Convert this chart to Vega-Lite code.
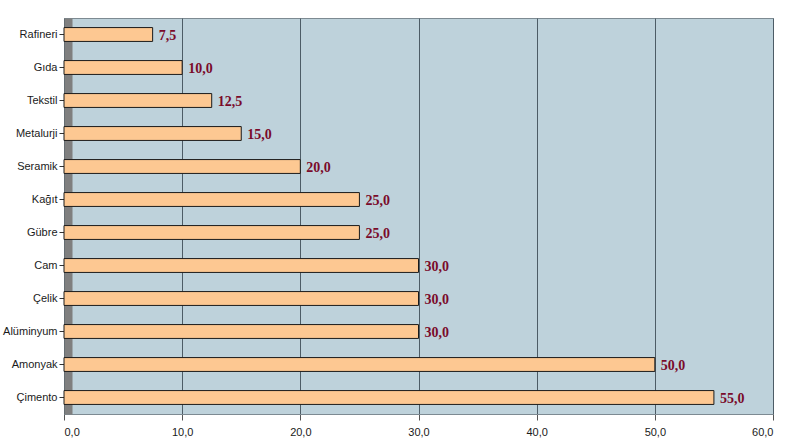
{
  "$schema": "https://vega.github.io/schema/vega-lite/v6.json",
  "autosize": "none",
  "width": 709,
  "height": 396,
  "padding": {"left": 64, "top": 18, "right": 21, "bottom": 30},
  "background": "white",
  "config": {
    "locale": {"number": {"decimal": ",", "thousands": ".", "grouping": [3], "currency": ["", " TL"]}},
    "view": {"fill": "#bed2db", "stroke": "#7d8a92", "strokeWidth": 1}
  },
  "data": {
    "values": [
      {"sektor": "Rafineri", "deger": 7.5},
      {"sektor": "Gıda", "deger": 10.0},
      {"sektor": "Tekstil", "deger": 12.5},
      {"sektor": "Metalurji", "deger": 15.0},
      {"sektor": "Seramik", "deger": 20.0},
      {"sektor": "Kağıt", "deger": 25.0},
      {"sektor": "Gübre", "deger": 25.0},
      {"sektor": "Cam", "deger": 30.0},
      {"sektor": "Çelik", "deger": 30.0},
      {"sektor": "Alüminyum", "deger": 30.0},
      {"sektor": "Amonyak", "deger": 50.0},
      {"sektor": "Çimento", "deger": 55.0}
    ]
  },
  "encoding": {
    "y": {
      "field": "sektor",
      "type": "nominal",
      "sort": null,
      "scale": {"paddingInner": 0.58, "paddingOuter": 0.29},
      "axis": {
        "title": null,
        "offset": -4,
        "labelFont": "Liberation Sans",
        "labelFontSize": 11,
        "labelColor": "#1a1a1a",
        "labelPadding": 2,
        "tickColor": "#333333",
        "tickSize": 9,
        "domainColor": "#7f7f7f",
        "domainWidth": 8
      }
    },
    "x": {
      "field": "deger",
      "type": "quantitative",
      "scale": {"domain": [0, 60], "nice": false},
      "axis": {
        "title": null,
        "values": [0, 10, 20, 30, 40, 50, 60],
        "format": ".1f",
        "labelFont": "Liberation Sans",
        "labelFontSize": 11,
        "labelColor": "#1a1a1a",
        "labelPadding": 6,
        "tickColor": "#555555",
        "tickSize": 6,
        "domainColor": "#7d8a92",
        "grid": true,
        "gridColor": "#4d5c66",
        "gridWidth": 1
      }
    }
  },
  "layer": [
    {
      "mark": {"type": "bar", "fill": "#fdc892", "stroke": "#1a1a1a", "strokeWidth": 1}
    },
    {
      "mark": {
        "type": "text",
        "align": "left",
        "baseline": "middle",
        "dx": 6,
        "dy": 1,
        "font": "Liberation Serif",
        "fontSize": 14,
        "fontWeight": "bold",
        "color": "#7a0a2a"
      },
      "encoding": {
        "text": {"field": "deger", "type": "quantitative", "format": ".1f"}
      }
    }
  ]
}
